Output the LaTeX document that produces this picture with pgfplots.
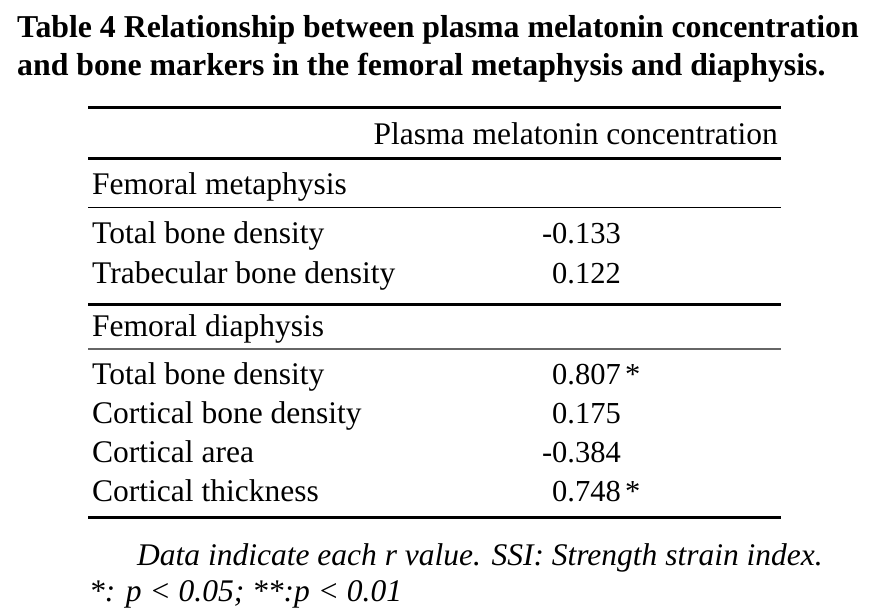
\documentclass[border=0pt]{standalone}
\usepackage{fontspec}
\setmainfont{Liberation Serif}
\usepackage{pgfplots}
\usepackage{pgfplotstable}
\pgfplotsset{compat=1.18}

% r values (right edge x, baseline y, label)
\pgfplotstableread{
x y label
621 243 -0.133
621 283 0.122
621 384 0.807
621 423 0.175
621 462 -0.384
621 501 0.748
}\rvalues
\pgfplotstableread{
x y label
625 384 *
625 501 *
}\stars

\begin{document}
\begin{tikzpicture}[font=\fontsize{31.5}{36}\selectfont]
\begin{axis}[
  scale only axis, width=872pt, height=615pt,
  xmin=0, xmax=872, ymin=0, ymax=615, y dir=reverse,
  hide axis, clip=false,
]
\path (axis cs:0,0) rectangle (axis cs:872,615);
% title
\node[anchor=base west, inner sep=0pt, font=\fontsize{31.8}{36}\selectfont\bfseries] at (axis cs:17,38) {Table 4 Relationship between plasma melatonin concentration};
\node[anchor=base west, inner sep=0pt, font=\fontsize{31.8}{36}\selectfont\bfseries] at (axis cs:17,76) {and bone markers in the femoral metaphysis and diaphysis.};
% rules
\draw[line width=3pt] (axis cs:88,108) -- (axis cs:781,108);
\draw[line width=3pt] (axis cs:88,158) -- (axis cs:781,158);
\draw[line width=1.4pt] (axis cs:88,207.5) -- (axis cs:781,207.5);
\draw[line width=3pt] (axis cs:88,304) -- (axis cs:781,304);
\draw[line width=1.4pt, black!60] (axis cs:88,349) -- (axis cs:781,349);
\draw[line width=3pt] (axis cs:88,517) -- (axis cs:781,517);
% header
\node[anchor=base east, inner sep=0pt] at (axis cs:778,144) {Plasma melatonin concentration};
% row labels
\node[anchor=base west, inner sep=0pt] at (axis cs:92,194) {Femoral metaphysis};
\node[anchor=base west, inner sep=0pt] at (axis cs:92,243) {Total bone density};
\node[anchor=base west, inner sep=0pt] at (axis cs:92,283) {Trabecular bone density};
\node[anchor=base west, inner sep=0pt] at (axis cs:92,336) {Femoral diaphysis};
\node[anchor=base west, inner sep=0pt] at (axis cs:92,384) {Total bone density};
\node[anchor=base west, inner sep=0pt] at (axis cs:92,423) {Cortical bone density};
\node[anchor=base west, inner sep=0pt] at (axis cs:92,462) {Cortical area};
\node[anchor=base west, inner sep=0pt] at (axis cs:92,501) {Cortical thickness};
% values
\addplot[draw=none, mark=none, nodes near coords, point meta=explicit symbolic,
  every node near coord/.append style={anchor=base east, inner sep=0pt, font=\fontsize{30.5}{36}\selectfont}]
  table[x=x, y=y, meta=label] {\rvalues};
\addplot[draw=none, mark=none, nodes near coords, point meta=explicit symbolic,
  every node near coord/.append style={anchor=base west, inner sep=0pt, font=\fontsize{30.5}{36}\selectfont}]
  table[x=x, y=y, meta=label] {\stars};
% footnote
\node[anchor=base west, inner sep=0pt, font=\fontsize{31.5}{36}\selectfont\itshape] at (axis cs:137,565) {Data indicate each r value. SSI: Strength strain index.};
\node[anchor=base west, inner sep=0pt, font=\fontsize{31.5}{36}\selectfont\itshape] at (axis cs:89,601) {*: p < 0.05; **:p < 0.01};
\end{axis}
\end{tikzpicture}
\end{document}
